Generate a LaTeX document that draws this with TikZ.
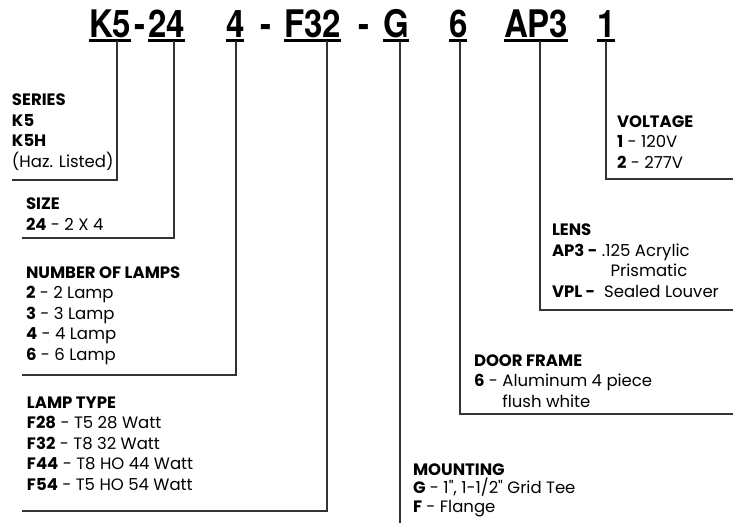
\documentclass[tikz,border=0pt]{standalone}
\usepackage{fontspec}
\setmainfont[Numbers=Monospaced]{Poppins}
\newfontfamily\codefont[FakeStretch=0.87]{TeX Gyre Heros}
\usepackage{tikz}
\usetikzlibrary{positioning}

\begin{document}
\begin{tikzpicture}[x=1pt,y=-1pt,
    every node/.style={inner sep=0pt,outer sep=0pt},
    code/.style={anchor=base west,text depth=3.5pt,font=\fontsize{38}{38}\codefont\bfseries\selectfont},
    info/.style={anchor=base west,align=left,font=\fontsize{16.5}{20.5}\selectfont},
    lead/.style={draw=black!80,line width=1.3pt},
    uline/.style={line width=2.2pt}]
  \useasboundingbox (0,0) rectangle (733,525);
  % part number
  \node[code] (tK5) at (89,37) {K5};
  \node[code] (d1) at (134,37) {-};
  \node[code] (t24) at (148,37) {24};
  \node[code] (t4) at (226,37) {4};
  \node[code] (d2) at (260,37) {-};
  \node[code] (tF32) at (284,37) {F32};
  \node[code] (d3) at (358,37) {-};
  \node[code] (tG) at (383,37) {G};
  \node[code] (t6) at (449,37) {6};
  \node[code] (tAP3) at (504,37) {AP3};
  \node[code] (t1) at (597,37) {1};
  \foreach \n in {tK5,t24,t4,tF32,tG,t6,tAP3,t1}
    \draw[uline] (\n.south west) -- (\n.south east);
  % option blocks (anchored at the last baseline)
  \node[info] (series) at (12,167) {\textbf{SERIES}\\\textbf{K5}\\\textbf{K5H}\\(Haz. Listed)};
  \node[info] (size) at (26,230) {\textbf{SIZE}\\\textbf{24} - 2 X 4};
  \node[info] (lamps) at (26,360) {\textbf{NUMBER OF LAMPS}\\\textbf{2} - 2 Lamp\\\textbf{3} - 3 Lamp\\\textbf{4} - 4 Lamp\\\textbf{6} - 6 Lamp};
  \node[info] (ltype) at (27,490) {\textbf{LAMP TYPE}\\\textbf{F28} - T5 28 Watt\\\textbf{F32} - T8 32 Watt\\\textbf{F44} - T8 HO 44 Watt\\\textbf{F54} - T5 HO 54 Watt};
  \node[info,font=\fontsize{16.5}{18.5}\selectfont] (mount) at (413,512) {\textbf{MOUNTING}\\\textbf{G} - 1\textquotedbl, 1-1/2\textquotedbl{} Grid Tee\\\textbf{F} - Flange};
  \node[info] (frame) at (474,407) {\textbf{DOOR FRAME}\\\textbf{6} - Aluminum 4 piece\\\phantom{\textbf{6} - }flush white};
  \node[info] (lens) at (552,297) {\textbf{LENS}\\\textbf{AP3 -} .125 Acrylic\\\phantom{\textbf{AP3 -} .1}Prismatic\\\textbf{VPL -} \ Sealed Louver};
  \node[info] (volt) at (617,168) {\textbf{VOLTAGE}\\\textbf{1} - 120V\\\textbf{2} - 277V};
  % leader corners
  \coordinate (cK5) at (117,180);  \coordinate (eK5) at (12,180);
  \coordinate (c24) at (174,238);  \coordinate (e24) at (22,238);
  \coordinate (c4) at (236,375);   \coordinate (e4) at (22,375);
  \coordinate (cF32) at (327,511); \coordinate (eF32) at (22,511);
  \coordinate (cG) at (400,523);
  \coordinate (c6) at (460,414);   \coordinate (e6) at (733,414);
  \coordinate (cAP3) at (540,310); \coordinate (eAP3) at (733,310);
  \coordinate (c1) at (606,179);   \coordinate (e1) at (733,179);
  \draw[lead] (cK5 |- tK5.south) -- (cK5) -- (eK5);
  \draw[lead] (c24 |- t24.south) -- (c24) -- (e24);
  \draw[lead] (c4 |- t4.south) -- (c4) -- (e4);
  \draw[lead] (cF32 |- tF32.south) -- (cF32) -- (eF32);
  \draw[lead] (cG |- tG.south) -- (cG);
  \draw[lead] (c6 |- t6.south) -- (c6) -- (e6);
  \draw[lead] (cAP3 |- tAP3.south) -- (cAP3) -- (eAP3);
  \draw[lead] (c1 |- t1.south) -- (c1) -- (e1);
\end{tikzpicture}
\end{document}
